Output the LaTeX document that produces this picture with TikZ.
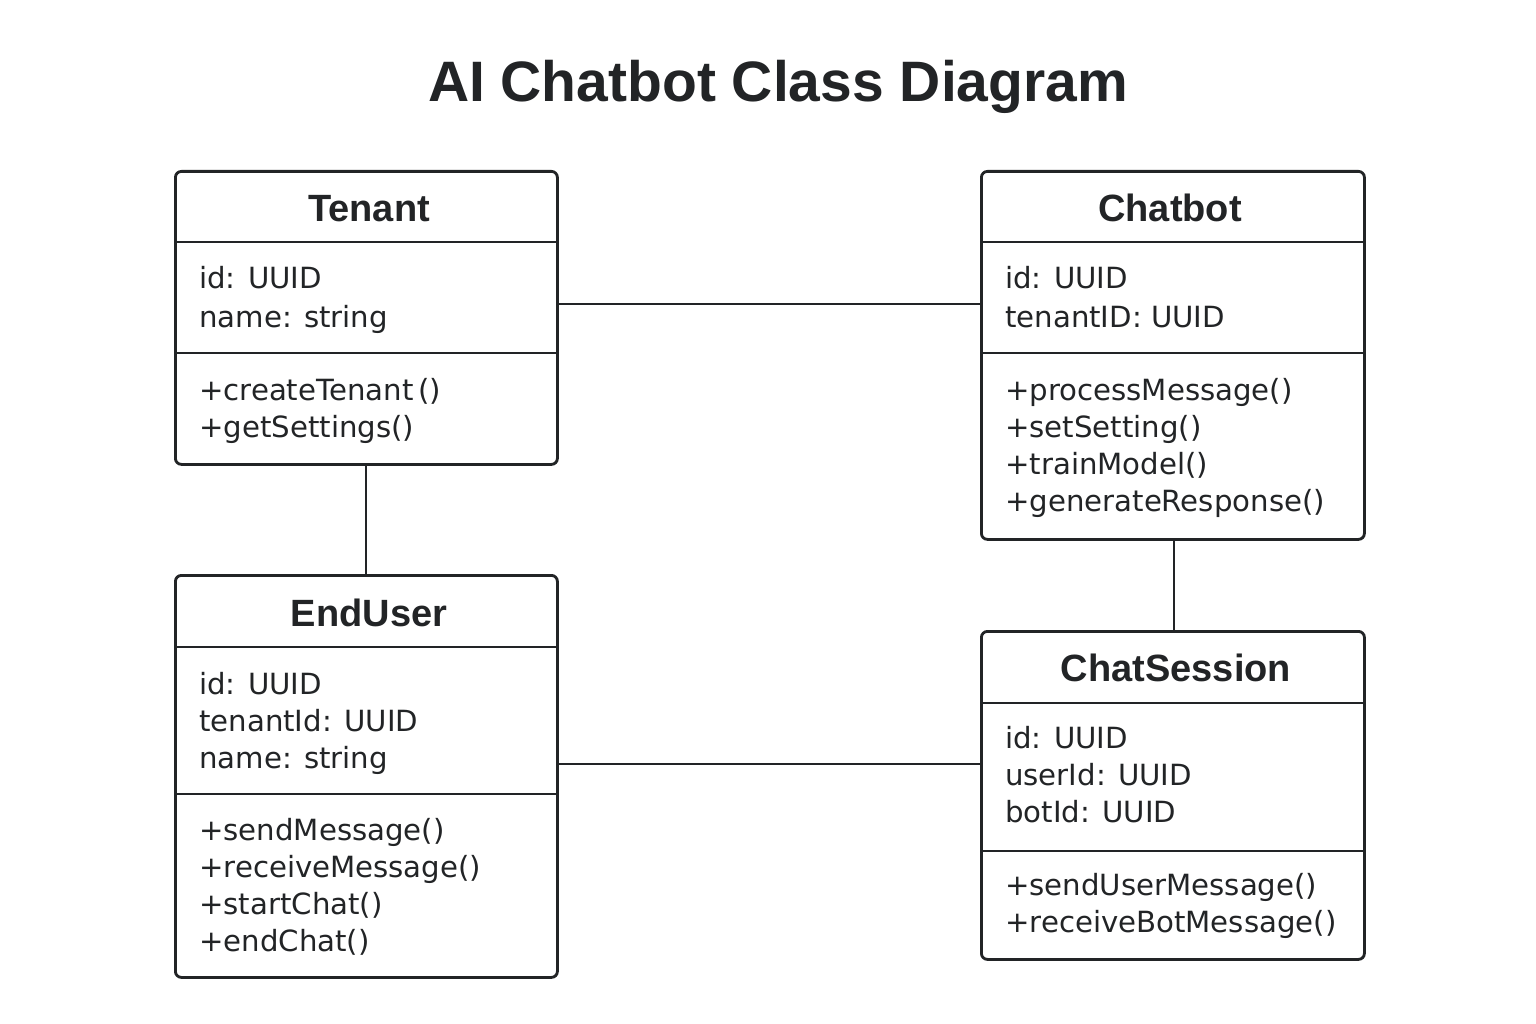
\documentclass[tikz,border=0pt]{standalone}
\usepackage{fontspec}
\setmainfont{DejaVu Sans}
\newfontfamily\titlefont{Liberation Sans}
\definecolor{ink}{HTML}{222426}
\begin{document}
\begin{tikzpicture}[x=1pt,y=-1pt,
  box/.style={draw=ink, line width=2.8pt, rounded corners=6pt, anchor=north west, inner sep=0pt},
  sep/.style={draw=ink, line width=2.8pt},
  conn/.style={draw=ink, line width=2.8pt},
  hdr/.style={anchor=base, inner sep=0pt, text=ink, font=\titlefont\fontsize{38}{44}\selectfont\bfseries},
  txt/.style={anchor=base west, inner sep=0pt, text=ink, font=\fontsize{29.2}{36}\selectfont},
  ttl/.style={anchor=base, inner sep=0pt, text=ink, font=\titlefont\fontsize{57}{64}\selectfont\bfseries}]
\fill[white] (0,0) rectangle (1536,1024);
\useasboundingbox (0,0) rectangle (1536,1024);

\node[ttl] (title) at (778,102) {AI Chatbot Class Diagram};

% Tenant
\node[box, minimum width=382pt, minimum height=293pt] (tenant) at (174,170) {};
\draw[sep] (tenant.west |- 0,242) -- (tenant.east |- 0,242);
\draw[sep] (tenant.west |- 0,353) -- (tenant.east |- 0,353);
\node[hdr] (tenantH) at (369,222) {Tenant};
\node[txt] (t1) at (199,289) {id: UUID};
\node[txt] (t2) at (199,327) {name: string};
\node[txt] (t3) at (199,400) {+createTenant\,()};
\node[txt] (t4) at (199,437) {+getSettings()};

% Chatbot
\node[box, minimum width=383pt, minimum height=368pt] (chatbot) at (980,170) {};
\draw[sep] (chatbot.west |- 0,242) -- (chatbot.east |- 0,242);
\draw[sep] (chatbot.west |- 0,353) -- (chatbot.east |- 0,353);
\node[hdr] (chatbotH) at (1170,222) {Chatbot};
\node[txt] (c1) at (1005,289) {id: UUID};
\node[txt] (c2) at (1005,327) {tenantID: UUID};
\node[txt] (c3) at (1005,400) {+processMessage()};
\node[txt] (c4) at (1005,437) {+setSetting()};
\node[txt] (c5) at (1005,474) {+trainModel()};
\node[txt] (c6) at (1005,511) {+generateResponse()};

% EndUser
\node[box, minimum width=382pt, minimum height=402pt] (enduser) at (174,574) {};
\draw[sep] (enduser.west |- 0,647) -- (enduser.east |- 0,647);
\draw[sep] (enduser.west |- 0,794) -- (enduser.east |- 0,794);
\node[hdr] (enduserH) at (369,626) {EndUser};
\node[txt] (e1) at (199,694) {id: UUID};
\node[txt] (e2) at (199,731) {tenantId: UUID};
\node[txt] (e3) at (199,768) {name: string};
\node[txt] (e4) at (199,840) {+sendMessage()};
\node[txt] (e5) at (199,877) {+receiveMessage()};
\node[txt] (e6) at (199,914) {+startChat()};
\node[txt] (e7) at (199,951) {+endChat()};

% ChatSession
\node[box, minimum width=383pt, minimum height=328pt] (session) at (980,630) {};
\draw[sep] (session.west |- 0,703) -- (session.east |- 0,703);
\draw[sep] (session.west |- 0,851) -- (session.east |- 0,851);
\node[hdr] (sessionH) at (1176,681) {ChatSession};
\node[txt] (s1) at (1005,748) {id: UUID};
\node[txt] (s2) at (1005,785) {userId: UUID};
\node[txt] (s3) at (1005,822) {botId: UUID};
\node[txt] (s4) at (1005,895) {+sendUserMessage()};
\node[txt] (s5) at (1005,932) {+receiveBotMessage()};

% connectors
\draw[conn] (tenant.east |- 0,304) -- (chatbot.west |- 0,304);
\draw[conn] (tenant.south -| 366,0) -- (enduser.north -| 366,0);
\draw[conn] (chatbot.south -| 1174,0) -- (session.north -| 1174,0);
\draw[conn] (enduser.east |- 0,764) -- (session.west |- 0,764);
\end{tikzpicture}
\end{document}
